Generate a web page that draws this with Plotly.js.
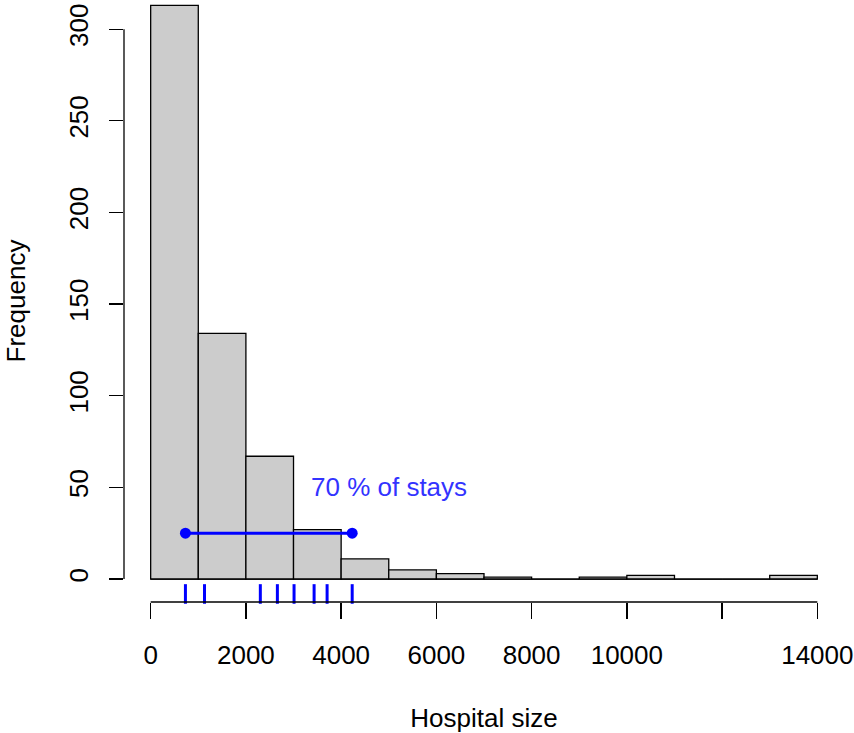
<!DOCTYPE html>
<html>
<head>
<meta charset="utf-8">
<script src="https://cdn.plot.ly/plotly-3.0.1.min.js"></script>
<style>html,body{margin:0;padding:0;background:#fff;}#chart{width:854px;height:733px;}</style>
</head>
<body>
<div id="chart"></div>
<script>
// Histogram bins (Hospital size, bin width 1000)
var binStarts = [0,1000,2000,3000,4000,5000,6000,7000,8000,9000,10000,11000,12000,13000];
var binWidth = 1000;
var frequencies = [313,134,67,27,11,5,3,1,0,1,2,0,0,2];
// Rug (hospital sizes of stays)
var rugValues = [730,1131,2303,2661,3011,3432,3705,4232];
// 70% interval segment
var intervalX = [730,4232];
var intervalY = 25;
var labelText = "70 % of stays";
var labelX = 5000, labelY = 50;
// axis ticks
var xTickVals = [0,2000,4000,6000,8000,10000,12000,14000];
var xTickText = ["0","2000","4000","6000","8000","10000","","14000"];
var yTickVals = [0,50,100,150,200,250,300];

var font = "Liberation Sans, Arial, sans-serif";
var xmin = binStarts[0], xmax = binStarts[binStarts.length-1] + binWidth;
var ymax = Math.max.apply(null, frequencies);
var xpad = (xmax - xmin) * 0.04;
var ypad = ymax * 0.04;

var centers = binStarts.map(function(s){ return s + binWidth/2; });

var traces = [
  {
    type: 'bar', x: centers, y: frequencies, width: binWidth,
    marker: {color: '#CCCCCC', line: {color: '#000000', width: 1.3}},
    hoverinfo: 'x+y', showlegend: false
  },
  {
    type: 'scatter', mode: 'markers', x: rugValues,
    y: rugValues.map(function(){ return -ypad * 0.65; }),
    marker: {symbol: 'line-ns', size: 14, line: {color: '#0000FF', width: 3}, color: '#0000FF'},
    cliponaxis: false, showlegend: false, hoverinfo: 'x'
  },
  {
    type: 'scatter', mode: 'lines+markers', x: intervalX, y: [intervalY, intervalY],
    line: {color: '#0000FF', width: 3},
    marker: {color: '#0000FF', size: 11},
    showlegend: false, hoverinfo: 'x'
  }
];

var layout = {
  width: 854, height: 733,
  margin: {l: 124, r: 10, t: 0, b: 131},
  paper_bgcolor: '#ffffff', plot_bgcolor: '#ffffff',
  bargap: 0,
  showlegend: false,
  font: {family: font, size: 26, color: '#000000'},
  xaxis: {
    range: [xmin - xpad, xmax + xpad],
    tickvals: xTickVals, ticktext: xTickText,
    ticks: 'outside', ticklen: 16, tickwidth: 1.3, tickcolor: '#000',
    showgrid: false, zeroline: false, showline: false,
    tickfont: {family: font, size: 26, color: '#000'},
    ticklabelstandoff: 14,
    title: {text: 'Hospital size', font: {family: font, size: 26, color: '#000'}, standoff: 40}
  },
  yaxis: {
    range: [-ypad, -ypad + 602/1.833],
    tickvals: yTickVals,
    ticks: 'outside', ticklen: 14, tickwidth: 1.3, tickcolor: '#000',
    tickangle: -90,
    ticklabelstandoff: 11,
    showgrid: false, zeroline: false, showline: false,
    tickfont: {family: font, size: 26, color: '#000'},
    title: {text: 'Frequency', font: {family: font, size: 26, color: '#000'}, standoff: 30}
  },
  shapes: [
    {type: 'line', xref: 'x', yref: 'paper', x0: xTickVals[0], x1: xTickVals[xTickVals.length-1], y0: 0, y1: 0, line: {color: '#000', width: 1.3}},
    {type: 'line', xref: 'paper', yref: 'y', x0: 0, x1: 0, y0: yTickVals[0], y1: yTickVals[yTickVals.length-1], line: {color: '#000', width: 1.3}},
    {type: 'line', xref: 'x', yref: 'y', x0: xmin, x1: xmax, y0: 0, y1: 0, line: {color: '#000', width: 1.3}, layer: 'above'}
  ],
  annotations: [
    {x: labelX, y: labelY, xref: 'x', yref: 'y', text: labelText, showarrow: false,
     font: {family: font, size: 26, color: '#3333FF'}}
  ]
};

Plotly.newPlot('chart', traces, layout, {displayModeBar: false, staticPlot: true});
</script>
</body>
</html>
